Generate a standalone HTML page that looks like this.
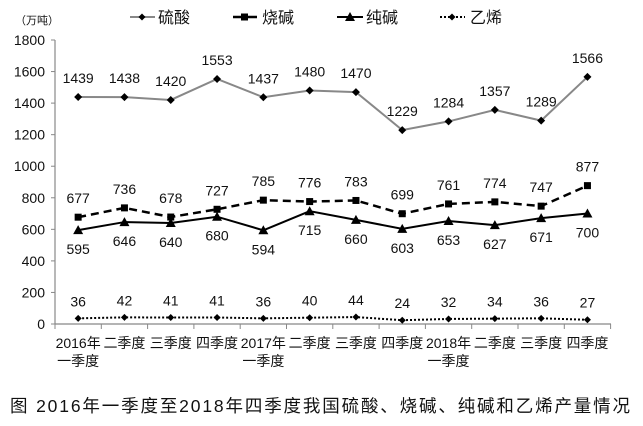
<!DOCTYPE html>
<html><head><meta charset="utf-8"><style>
body{margin:0;background:#fff;width:643px;height:421px;overflow:hidden}
text{font-family:"Liberation Sans","Noto Sans CJK SC",sans-serif;fill:#111}
</style></head><body>
<svg id="s" width="643" height="421" xmlns="http://www.w3.org/2000/svg"></svg>
<script>
const s=document.getElementById('s');let h='';
const Y=v=>324-v*284/1800, X=i=>55+46.3*(i+0.5);
// axes
h+='<line x1="55" y1="40" x2="55" y2="324" stroke="#888" stroke-width="1.2"/>';
h+='<line x1="55" y1="324" x2="611" y2="324" stroke="#888" stroke-width="1.2"/>';
for(let v=0;v<=1800;v+=200){h+=`<line x1="51" y1="${Y(v)}" x2="55" y2="${Y(v)}" stroke="#888"/><text x="45" y="${Y(v)+5}" text-anchor="end" font-size="14">${v}</text>`;}
for(let i=0;i<=12;i++){h+=`<line x1="${55+46.3*i}" y1="324" x2="${55+46.3*i}" y2="329" stroke="#888"/>`;}
const cats=['2016年','二季度','三季度','四季度','2017年','二季度','三季度','四季度','2018年','二季度','三季度','四季度'];
cats.forEach((c,i)=>{h+=`<text x="${X(i)}" y="348" text-anchor="middle" font-size="14">${c}</text>`;if(i%4==0)h+=`<text x="${X(i)}" y="366" text-anchor="middle" font-size="14">一季度</text>`;});
h+='<text x="15" y="24" font-size="11">（万吨）</text>';
const A=[1439,1438,1420,1553,1437,1480,1470,1229,1284,1357,1289,1566],
B=[677,736,678,727,785,776,783,699,761,774,747,877],
C=[595,646,640,680,594,715,660,603,653,627,671,700],
D=[36,42,41,41,36,40,44,24,32,34,36,27];
const pts=a=>a.map((v,i)=>X(i)+','+Y(v)).join(' ');
const dia=(x,y,r)=>`<polygon points="${x},${y-r} ${x+r},${y} ${x},${y+r} ${x-r},${y}" fill="#000"/>`;
h+=`<polyline points="${pts(A)}" fill="none" stroke="#888" stroke-width="2"/>`;
h+=`<polyline points="${pts(B)}" fill="none" stroke="#000" stroke-width="2.5" stroke-dasharray="8,5"/>`;
h+=`<polyline points="${pts(C)}" fill="none" stroke="#000" stroke-width="2"/>`;
h+=`<polyline points="${pts(D)}" fill="none" stroke="#000" stroke-width="2" stroke-dasharray="2,2"/>`;
A.forEach((v,i)=>{h+=dia(X(i),Y(v),4)+`<text x="${X(i)}" y="${Y(v)-14}" text-anchor="middle" font-size="14">${v}</text>`});
B.forEach((v,i)=>{h+=`<rect x="${X(i)-3.5}" y="${Y(v)-3.5}" width="7" height="7" fill="#000"/><text x="${X(i)}" y="${Y(v)-14}" text-anchor="middle" font-size="14">${v}</text>`});
C.forEach((v,i)=>{h+=`<polygon points="${X(i)},${Y(v)-5} ${X(i)+5},${Y(v)+4} ${X(i)-5},${Y(v)+4}" fill="#000"/><text x="${X(i)}" y="${Y(v)+24}" text-anchor="middle" font-size="14">${v}</text>`});
D.forEach((v,i)=>{h+=dia(X(i),Y(v),3.5)+`<text x="${X(i)}" y="${Y(v)-12}" text-anchor="middle" font-size="14">${v}</text>`});
// legend
const ly=17;
h+=`<line x1="130" y1="${ly}" x2="155" y2="${ly}" stroke="#888" stroke-width="2"/>`+dia(142,ly,3.5)+`<text x="158" y="${ly+6}" font-size="16">硫酸</text>`;
h+=`<line x1="233" y1="${ly}" x2="257" y2="${ly}" stroke="#000" stroke-width="2.5"/><rect x="241" y="${ly-3.5}" width="7" height="7"/><text x="262" y="${ly+6}" font-size="16">烧碱</text>`;
h+=`<line x1="337" y1="${ly}" x2="363" y2="${ly}" stroke="#000" stroke-width="2"/><polygon points="350,${ly-5} 355,${ly+4} 345,${ly+4}"/><text x="366" y="${ly+6}" font-size="16">纯碱</text>`;
h+=`<line x1="440" y1="${ly}" x2="465" y2="${ly}" stroke="#000" stroke-width="2" stroke-dasharray="2,2"/>`+dia(452,ly,3.5)+`<text x="470" y="${ly+6}" font-size="16">乙烯</text>`;
h+='<text x="10" y="412" font-size="17.5" textLength="620">图  2016年一季度至2018年四季度我国硫酸、烧碱、纯碱和乙烯产量情况</text>';
s.innerHTML=h;
</script>
</body></html>
